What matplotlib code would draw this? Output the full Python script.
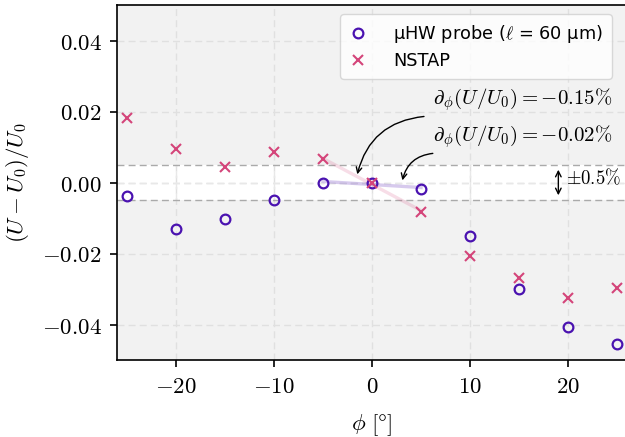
import numpy as np
import matplotlib
matplotlib.use("Agg")
import matplotlib.pyplot as plt

plt.rcParams['mathtext.fontset'] = 'cm'
plt.rcParams['font.family'] = ['DejaVu Sans']
plt.rcParams['axes.formatter.use_mathtext'] = True
plt.rcParams['axes.unicode_minus'] = True

phi = [-25, -20, -15, -10, -5, 0, 5, 10, 15, 20, 25]
uhw = [-0.0037, -0.0130, -0.0104, -0.0050, 0.0000, 0.0000, -0.0017, -0.0152, -0.0300, -0.0406, -0.0456]
nstap = [0.0183, 0.0093, 0.0045, 0.0087, 0.0065, 0.0000, -0.0082, -0.0208, -0.0270, -0.0324, -0.0296]
fit_range = [-5, 0, 5]

c_uhw = '#4a12b0'
c_nst = '#d4457a'

fig = plt.figure(figsize=(6.25, 4.37), dpi=100)
ax = fig.add_axes([117/625, 1-360/437, 510/625, 355/437])
ax.set_facecolor('#f2f2f2')
ax.set_xlim(-26, 26)
ax.set_ylim(-0.05, 0.05)

ax.grid(True, color='#e0e0e0', linestyle=(0, (5, 3)), linewidth=1.0, zorder=0)
ax.set_axisbelow(True)

ax.axhspan(-0.005, 0.005, color='white', zorder=0.5, lw=0)
ax.axhline(0.005, color='#aaaaaa', ls=(0, (5, 3)), lw=1.0, zorder=0.6)
ax.axhline(-0.005, color='#aaaaaa', ls=(0, (5, 3)), lw=1.0, zorder=0.6)
ax.axhline(0.0, color='#e8e8e8', ls=(0, (5, 3)), lw=1.0, zorder=0.55)
for xv in [-20, -10, 0, 10, 20]:
    ax.plot([xv, xv], [-0.005, 0.005], color='#e8e8e8', ls=(0, (5, 3)), lw=1.0, zorder=0.55)

# linear fits around phi=0
idx = [phi.index(v) for v in fit_range]
xf = np.array(fit_range, dtype=float)
pu = np.polyfit(xf, [uhw[i] for i in idx], 1)
pn = np.polyfit(xf, [nstap[i] for i in idx], 1)
ax.plot(xf, np.polyval(pu, xf), color=c_uhw, alpha=0.22, lw=2.4, zorder=1)
ax.plot(xf, np.polyval(pn, xf), color=c_nst, alpha=0.18, lw=2.4, zorder=1)

ax.plot(phi, uhw, 'o', ls='none', mfc='none', mec=c_uhw, mew=1.6, ms=7,
        label='μHW probe ($\\ell$ = 60 μm)', zorder=3)
ax.plot(phi, nstap, 'x', ls='none', color=c_nst, mew=1.5, ms=7,
        label='NSTAP', zorder=3)

ax.set_xticks([-20, -10, 0, 10, 20])
ax.set_yticks([-0.04, -0.02, 0.0, 0.02, 0.04])
ax.set_yticklabels([r'$-0.04$', r'$-0.02$', r'$0.00$', r'$0.02$', r'$0.04$'])
ax.set_xticklabels([r'$-20$', r'$-10$', r'$0$', r'$10$', r'$20$'])
ax.tick_params(labelsize=16.5, direction='out', length=5, width=1.2, pad=6)
for s in ax.spines.values():
    s.set_linewidth(1.2)

ax.set_xlabel(r'$\phi\ [\degree]$', fontsize=16.5, labelpad=10)
ax.set_ylabel(r'$(U-U_0)/U_0$', fontsize=16.5, labelpad=8)

ax.text(6.2, 0.0234, r'$\partial_\phi(U/U_0) = -0.15\%$', fontsize=15, va='center', ha='left')
ax.text(6.2, 0.0130, r'$\partial_\phi(U/U_0) = -0.02\%$', fontsize=15, va='center', ha='left')
ax.annotate('', xy=(-1.5, 0.0023), xytext=(5.3, 0.0186),
            arrowprops=dict(arrowstyle='->', color='black', lw=1.0,
                            connectionstyle='arc3,rad=0.35', shrinkA=0, shrinkB=0))
ax.annotate('', xy=(3.1, 0.0006), xytext=(6.2, 0.0082),
            arrowprops=dict(arrowstyle='->', color='black', lw=1.0,
                            connectionstyle='arc3,rad=0.35', shrinkA=0, shrinkB=0))
ax.annotate('', xy=(19.0, -0.0036), xytext=(19.0, 0.0036),
            arrowprops=dict(arrowstyle='<->', color='black', lw=1.0, shrinkA=0, shrinkB=0))
ax.text(19.8, 0.0012, r'$\pm 0.5\%$', fontsize=13.5, va='center', ha='left')

leg = ax.legend(loc='upper right', bbox_to_anchor=(0.9706, 0.9746), fontsize=12.8,
                frameon=True, fancybox=True, framealpha=0.8, edgecolor='#d0d0d0',
                handlelength=1.0, handletextpad=1.5, borderpad=0.5, labelspacing=0.4,
                borderaxespad=0)

fig.savefig('out.png', dpi=100)
